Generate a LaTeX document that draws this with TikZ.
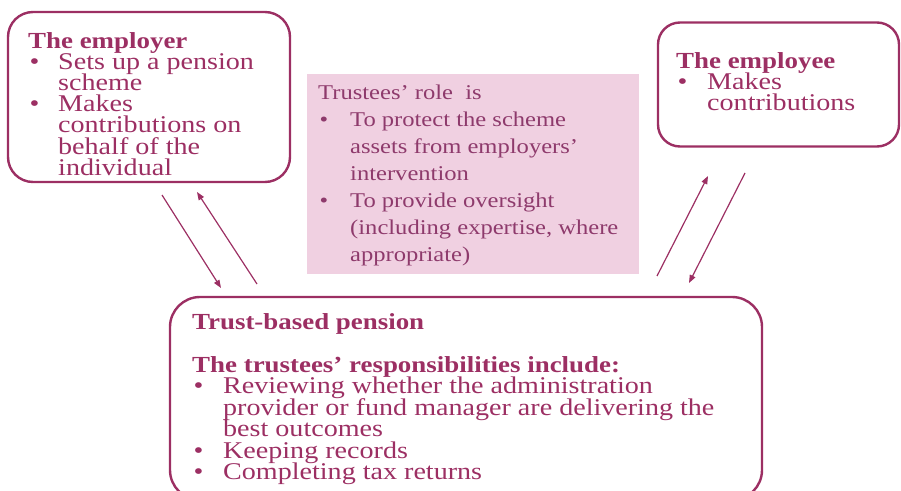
\documentclass[tikz,border=0pt]{standalone}
\usepackage{fontspec}
\setmainfont{Liberation Serif}[FakeStretch=1.17]
\usetikzlibrary{arrows.meta}

\definecolor{plum}{HTML}{9C2F63}
\definecolor{rolefill}{HTML}{F0D0E1}
\definecolor{roletext}{HTML}{8E3A6C}

% hanging bullet lists with fixed leading
\newlength{\bulletgap}
\newcommand{\bitem}[1]{\makebox[\bulletgap][l]{\hspace{1.5pt}\textbullet}#1}
\newcommand{\bcont}[1]{\hspace*{\bulletgap}#1}
\newcommand{\btitle}[1]{{\fontsize{23}{21}\selectfont\bfseries #1}}
\newcommand{\boxlines}[4]{\parbox[t]{560pt}{\fontsize{#1}{#2}\selectfont
  \lineskiplimit=-100pt\setlength{\bulletgap}{#3}\raggedright #4}}

\begin{document}
\begin{tikzpicture}[x=1pt,y=-1pt,
  box/.style={draw=plum, line width=2.4pt},
  txt/.style={anchor=base west, inner sep=0pt, text=plum},
  conn/.style={draw=plum, line width=1.2pt, -{Triangle[length=8pt,width=6pt]}}]
\useasboundingbox (0,0) rectangle (901,490);
\clip (0,0) rectangle (901,490);

% boxes
\node[box, rounded corners=25pt, minimum width=282pt, minimum height=170pt] (employer) at (149,97) {};
\node[box, rounded corners=22pt, minimum width=241pt, minimum height=124pt] (employee) at (778.5,84.5) {};
\node[fill=rolefill, minimum width=332pt, minimum height=200pt] (role) at (473,174) {};
\node[box, rounded corners=30pt, minimum width=592pt, minimum height=203pt] (trust) at (466,398.5) {};

% texts
\node[txt] (employertext) at (28,48) {\boxlines{24}{21.2}{30pt}{%
  \btitle{The employer}\\
  \bitem{Sets up a pension}\\
  \bcont{scheme}\\
  \bitem{Makes}\\
  \bcont{contributions on}\\
  \bcont{behalf of the}\\
  \bcont{individual}}};

\node[txt] (employeetext) at (676,68) {\boxlines{24}{21.2}{31pt}{%
  \btitle{The employee}\\
  \bitem{Makes}\\
  \bcont{contributions}}};

\node[txt, text=roletext] (roletext) at (318,99) {\boxlines{21}{27}{32pt}{%
  Trustees’ role\ \ is\\
  \bitem{To protect the scheme}\\
  \bcont{assets from employers’}\\
  \bcont{intervention}\\
  \bitem{To provide oversight}\\
  \bcont{(including expertise, where}\\
  \bcont{appropriate)}}};

\node[txt] (trusttext) at (192,329) {\boxlines{24}{21.5}{31pt}{%
  \btitle{Trust-based pension}\\[21.5pt]
  \btitle{The trustees’ responsibilities include:}\\
  \bitem{Reviewing whether the administration}\\
  \bcont{provider or fund manager are delivering the}\\
  \bcont{best outcomes}\\
  \bitem{Keeping records}\\
  \bitem{Completing tax returns}}};

% connector end points
\coordinate (empdownA) at (162,195);
\coordinate (empdownB) at (221,288);
\coordinate (empupA) at (257,284);
\coordinate (empupB) at (197,192);
\coordinate (eeupA) at (657,276);
\coordinate (eeupB) at (708,176);
\coordinate (eedownA) at (745,173);
\coordinate (eedownB) at (689,283);

\draw[conn] (empdownA) -- (empdownB);
\draw[conn] (empupA) -- (empupB);
\draw[conn] (eeupA) -- (eeupB);
\draw[conn] (eedownA) -- (eedownB);
\end{tikzpicture}
\end{document}
